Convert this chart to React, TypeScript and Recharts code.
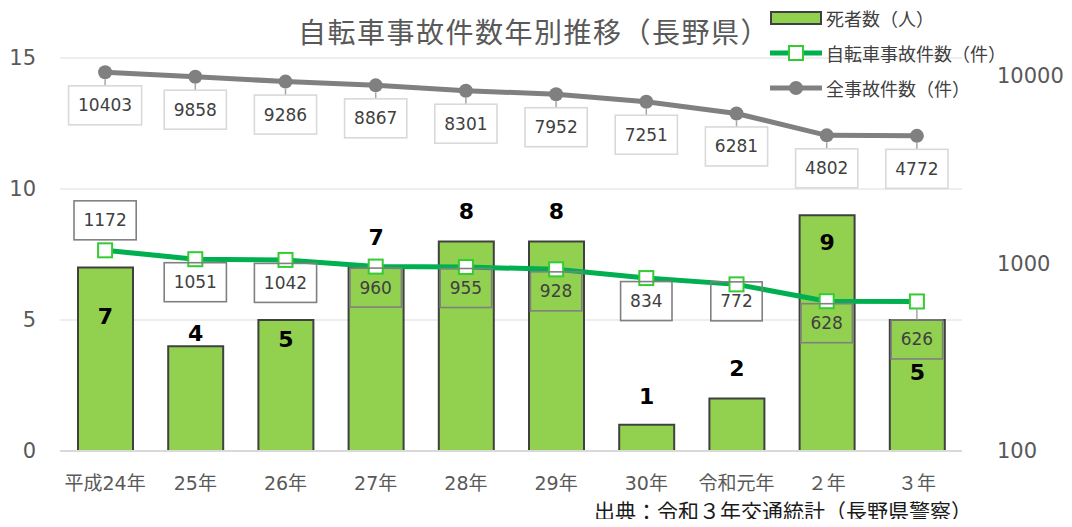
import React from 'react';
import { ComposedChart, Bar, Line, XAxis, YAxis, CartesianGrid, LabelList } from 'recharts';

const categories = ['平成24年', '25年', '26年', '27年', '28年', '29年', '30年', '令和元年', '２年', '３年'];
const deaths = [7, 4, 5, 7, 8, 8, 1, 2, 9, 5];
const bicycleAccidents = [1172, 1051, 1042, 960, 955, 928, 834, 772, 628, 626];
const totalAccidents = [10403, 9858, 9286, 8867, 8301, 7952, 7251, 6281, 4802, 4772];
const leftTicks = [0, 5, 10, 15];
const rightTicks = [100, 1000, 10000];

const seriesNames = ['死者数（人）', '自転車事故件数（件）', '全事故件数（件）'];
const titleText = '自転車事故件数年別推移（長野県）';
const sourceText = '出典：令和３年交通統計（長野県警察）';

// label placement (style): pixel offsets of label centers
const deathLabelDy = [49, -13, 19, -30, -30, -30, -28, -30, 27, 52];
const bicycleLabelDy = [-30, 23, 23, 21, 21, 22, 23, 17, 22, 38];
const totalLabelDy = 33;

const data = categories.map((c, i) => ({
  name: c,
  deaths: deaths[i],
  bicycle: bicycleAccidents[i],
  total: totalAccidents[i],
}));

const FONT = "'DejaVu Sans', 'Noto Sans CJK JP', sans-serif";
const JFONT = "'Noto Sans CJK JP', sans-serif";

const DeathLabel = (props: any) => {
  const { x, y, width, value, index } = props;
  const dy = deathLabelDy[index] ?? -20;
  return (
    <text
      x={x + width / 2}
      y={y + dy}
      textAnchor="middle"
      dominantBaseline="central"
      fontFamily={FONT}
      fontWeight="bold"
      fontSize={22}
      fill="#000"
    >
      {value}
    </text>
  );
};

const boxLabel = (borderColor: string, getDy: (i: number) => number) => (props: any) => {
  const { x, y, value, index } = props;
  const dy = getDy(index);
  const s = String(value);
  const w = s.length * 10.8 + 19;
  const h = 39;
  const cy = y + dy;
  const leader = dy > 30;
  return (
    <g>
      {leader && (
        <line x1={x} y1={y + 7} x2={x} y2={cy - h / 2} stroke="#a6a6a6" strokeWidth={1.5} />
      )}
      <rect x={x - w / 2} y={cy - h / 2} width={w} height={h} fill="none" stroke={borderColor} strokeWidth={1.6} />
      <text
        x={x}
        y={cy}
        textAnchor="middle"
        dominantBaseline="central"
        fontFamily={FONT}
        fontSize={17}
        fill="#404040"
      >
        {s}
      </text>
    </g>
  );
};

const BicycleLabel = boxLabel('#808080', (i) => bicycleLabelDy[i] ?? 22);
const TotalLabel = boxLabel('#d9d9d9', () => totalLabelDy);

const SquareDot = (props: any) => {
  const { cx, cy, index } = props;
  if (cx == null || cy == null) return <g key={`sq-${index}`} />;
  return (
    <rect key={`sq-${index}`} x={cx - 7} y={cy - 7} width={14} height={14} fill="#fff" stroke="#33CC33" strokeWidth={2} />
  );
};

const Legend = () => (
  <div style={{ position: 'absolute', left: 762, top: 0, fontFamily: JFONT, fontSize: 18, color: '#404040' }}>
    {seriesNames.map((n, i) => (
      <div key={n} style={{ position: 'absolute', left: 0, top: [10, 45, 80][i] - 13, height: 26, display: 'flex', alignItems: 'center', whiteSpace: 'nowrap' }}>
        <svg width={54} height={26} style={{ display: 'block' }}>
          {i === 0 && <rect x={1} y={7} width={50} height={12} fill="#92D050" stroke="#404040" strokeWidth={2} />}
          {i === 1 && (
            <g>
              <line x1={0} y1={13} x2={52} y2={13} stroke="#00B050" strokeWidth={5} />
              <rect x={19} y={6} width={14} height={14} fill="#fff" stroke="#33CC33" strokeWidth={2} />
            </g>
          )}
          {i === 2 && (
            <g>
              <line x1={0} y1={13} x2={52} y2={13} stroke="#808080" strokeWidth={5} />
              <circle cx={26} cy={13} r={7} fill="#808080" />
            </g>
          )}
        </svg>
        <span style={{ marginLeft: 2, lineHeight: '26px' }}>{n}</span>
      </div>
    ))}
  </div>
);

export default function App() {
  return (
    <div style={{ position: 'relative', width: 1056, height: 511 }}>
      <ComposedChart
        width={1056}
        height={511}
        data={data}
        margin={{ top: 50, right: 0, left: 0, bottom: 28 }}
      >
        <CartesianGrid yAxisId="left" vertical={false} stroke="#e8e8e8" strokeWidth={1.5} />
        <XAxis
          dataKey="name"
          tickLine={false}
          axisLine={{ stroke: '#d9d9d9', strokeWidth: 2 }}
          tickSize={0}
          tickMargin={26}
          height={40}
          interval={0}
          tick={{ fontSize: 19, fill: '#595959', fontFamily: FONT }}
        />
        <YAxis
          yAxisId="left"
          domain={[0, 15]}
          ticks={leftTicks}
          axisLine={false}
          tickLine={false}
          tickSize={0}
          tickMargin={24}
          width={52}
          tick={{ fontSize: 21, fill: '#595959', fontFamily: FONT }}
        />
        <YAxis
          yAxisId="right"
          orientation="right"
          type="number"
          scale="log"
          domain={[100, 12400]}
          allowDataOverflow
          ticks={rightTicks}
          axisLine={false}
          tickLine={false}
          tickSize={0}
          tickMargin={35}
          width={102}
          tick={{ fontSize: 21, fill: '#595959', fontFamily: FONT }}
        />
        <Bar
          yAxisId="left"
          dataKey="deaths"
          fill="#92D050"
          stroke="#404040"
          strokeWidth={2}
          barSize={55}
          isAnimationActive={false}
        >
          <LabelList dataKey="deaths" content={DeathLabel} />
        </Bar>
        <Line
          yAxisId="right"
          dataKey="total"
          stroke="#808080"
          strokeWidth={5}
          dot={{ r: 7, fill: '#808080', stroke: '#808080', strokeWidth: 0 }}
          isAnimationActive={false}
        >
          <LabelList dataKey="total" content={TotalLabel} />
        </Line>
        <Line
          yAxisId="right"
          dataKey="bicycle"
          stroke="#00B050"
          strokeWidth={5}
          dot={SquareDot}
          isAnimationActive={false}
        >
          <LabelList dataKey="bicycle" content={BicycleLabel} />
        </Line>
      </ComposedChart>
      <div
        style={{
          position: 'absolute',
          left: 290,
          top: 9,
          fontFamily: JFONT,
          fontSize: 28,
          lineHeight: '28px',
          letterSpacing: '1.5px',
          color: '#595959',
          whiteSpace: 'nowrap',
        }}
      >
        {titleText}
      </div>
      <Legend />
      <div
        style={{
          position: 'absolute',
          left: 586,
          top: 492,
          fontFamily: JFONT,
          fontSize: 21,
          lineHeight: '20px',
          color: '#1a1a1a',
          whiteSpace: 'nowrap',
        }}
      >
        {sourceText}
      </div>
    </div>
  );
}
